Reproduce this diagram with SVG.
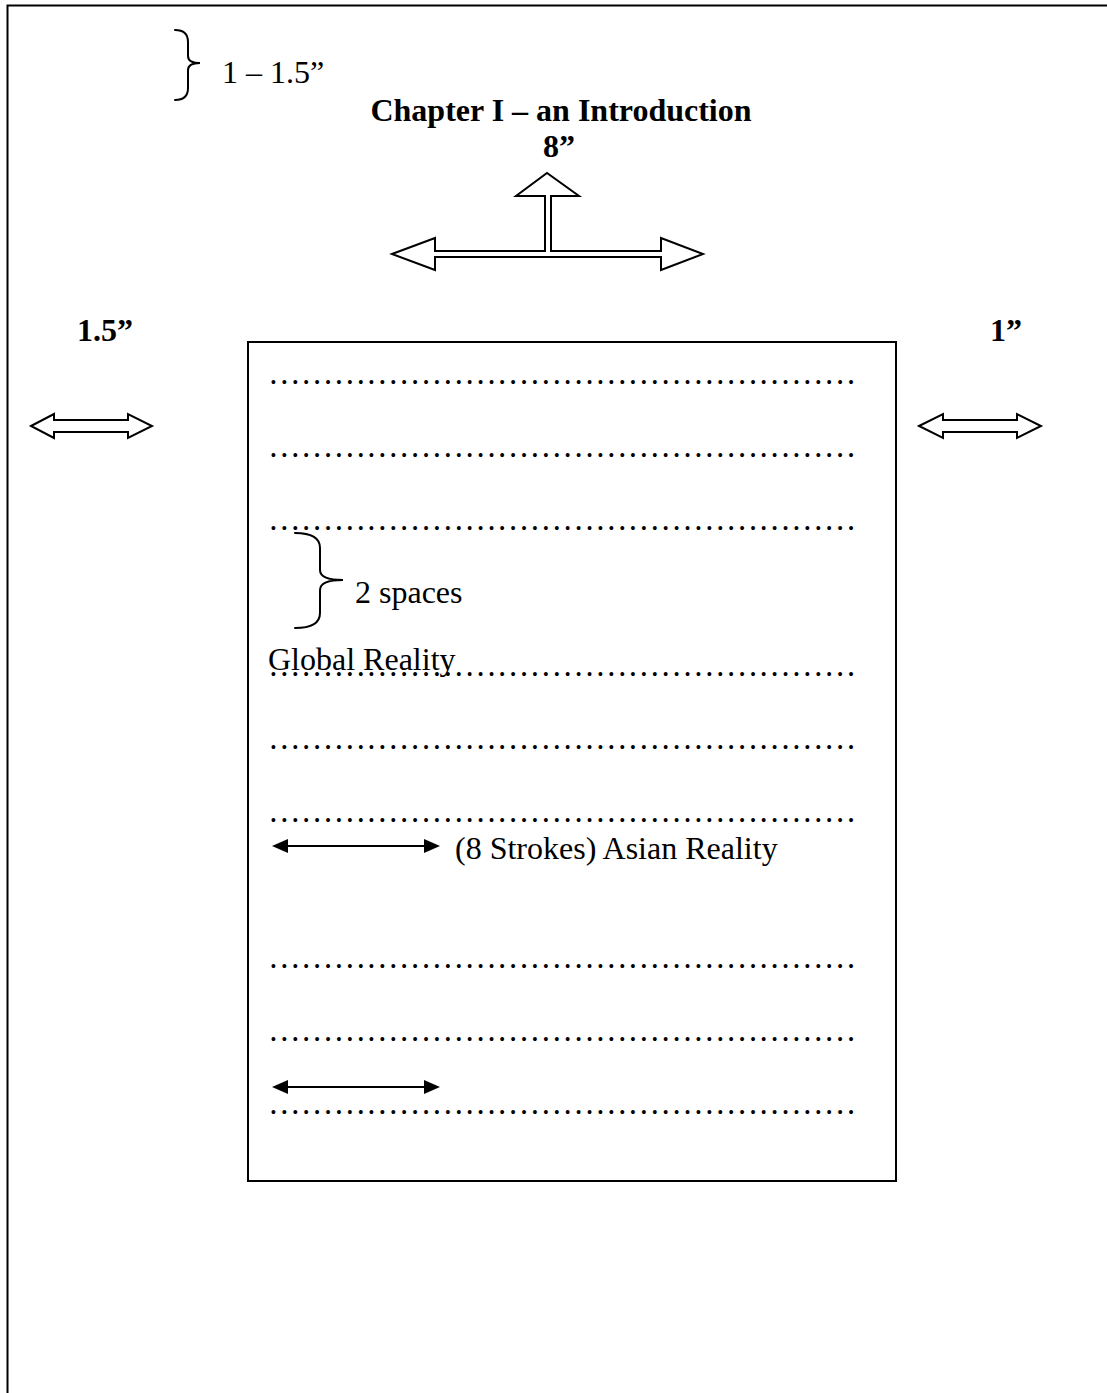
<svg xmlns="http://www.w3.org/2000/svg" width="1107" height="1393" viewBox="0 0 1107 1393">
  <style>
    .t { font-family: "Liberation Serif", "Times New Roman", serif; font-size: 32px; fill: #000; }
    .b { font-weight: bold; }
    .dots { font-family: "Liberation Serif", "Times New Roman", serif; font-size: 32.7px; fill: #000; }
    .frame { fill: none; stroke: #000; stroke-width: 2; }
    .brace { fill: none; stroke: #000; stroke-width: 2; stroke-linecap: round; }
    .hollow { fill: #fff; stroke: #000; stroke-width: 2; stroke-linejoin: miter; }
    .thin { stroke: #000; stroke-width: 2.2; fill: none; }
    .head { fill: #000; }
  </style>

  <rect width="1107" height="1393" fill="#fff"/>

  <!-- page edges (left and top) -->
  <g id="page-frame">
    <path class="frame" d="M7.5,1393 V5.5 H1107"/>
  </g>

  <!-- top margin note -->
  <g id="top-margin">
    <path class="brace" d="M175,30 Q188,30 188,42 L188,56 Q188,63 200,63 Q188,63 188,70 L188,88 Q188,100 175,100"/>
    <text class="t" x="222" y="83">1 – 1.5”</text>
  </g>

  <!-- heading -->
  <g id="title">
    <text class="t b" x="561" y="121" text-anchor="middle">Chapter I – an Introduction</text>
    <text class="t b" x="543" y="157">8”</text>
  </g>

  <!-- width marker: hollow T-shaped arrow -->
  <g id="width-arrow">
    <path class="hollow" d="M392,254 L435,238 L435,251 L545,251 L545,196 L516,196 L547,173 L579,196 L551,196 L551,251 L661,251 L661,238 L703,254 L661,270 L661,257 L435,257 L435,270 Z"/>
  </g>

  <!-- side margins -->
  <g id="left-margin">
    <text class="t b" x="77" y="341">1.5”</text>
    <path class="hollow" d="M31,426 L54,414 L54,420 L128,420 L128,414 L152,426 L128,438 L128,432 L54,432 L54,438 Z"/>
  </g>
  <g id="right-margin">
    <text class="t b" x="990" y="341">1”</text>
    <path class="hollow" d="M919,426 L943,414 L943,420 L1017,420 L1017,414 L1041,426 L1017,438 L1017,432 L943,432 L943,438 Z"/>
  </g>

  <!-- text block: 18 ellipsis characters per row -->
  <g id="text-block">
    <rect class="frame" x="248" y="342" width="648" height="839"/>
    <text class="dots" x="268" y="384">&#8230;&#8230;&#8230;&#8230;&#8230;&#8230;&#8230;&#8230;&#8230;&#8230;&#8230;&#8230;&#8230;&#8230;&#8230;&#8230;&#8230;&#8230;</text>
    <text class="dots" x="268" y="457">&#8230;&#8230;&#8230;&#8230;&#8230;&#8230;&#8230;&#8230;&#8230;&#8230;&#8230;&#8230;&#8230;&#8230;&#8230;&#8230;&#8230;&#8230;</text>
    <text class="dots" x="268" y="530">&#8230;&#8230;&#8230;&#8230;&#8230;&#8230;&#8230;&#8230;&#8230;&#8230;&#8230;&#8230;&#8230;&#8230;&#8230;&#8230;&#8230;&#8230;</text>
    <text class="dots" x="268" y="676">&#8230;&#8230;&#8230;&#8230;&#8230;&#8230;&#8230;&#8230;&#8230;&#8230;&#8230;&#8230;&#8230;&#8230;&#8230;&#8230;&#8230;&#8230;</text>
    <text class="dots" x="268" y="749">&#8230;&#8230;&#8230;&#8230;&#8230;&#8230;&#8230;&#8230;&#8230;&#8230;&#8230;&#8230;&#8230;&#8230;&#8230;&#8230;&#8230;&#8230;</text>
    <text class="dots" x="268" y="822">&#8230;&#8230;&#8230;&#8230;&#8230;&#8230;&#8230;&#8230;&#8230;&#8230;&#8230;&#8230;&#8230;&#8230;&#8230;&#8230;&#8230;&#8230;</text>
    <text class="dots" x="268" y="968">&#8230;&#8230;&#8230;&#8230;&#8230;&#8230;&#8230;&#8230;&#8230;&#8230;&#8230;&#8230;&#8230;&#8230;&#8230;&#8230;&#8230;&#8230;</text>
    <text class="dots" x="268" y="1041">&#8230;&#8230;&#8230;&#8230;&#8230;&#8230;&#8230;&#8230;&#8230;&#8230;&#8230;&#8230;&#8230;&#8230;&#8230;&#8230;&#8230;&#8230;</text>
    <text class="dots" x="268" y="1114">&#8230;&#8230;&#8230;&#8230;&#8230;&#8230;&#8230;&#8230;&#8230;&#8230;&#8230;&#8230;&#8230;&#8230;&#8230;&#8230;&#8230;&#8230;</text>
  </g>

  <g id="spacing-note">
    <path class="brace" d="M295,533 Q320,533 320,548 L320,570 Q320,580 343,580 Q320,580 320,590 L320,613 Q320,628 295,628"/>
    <text class="t" x="355" y="603">2 spaces</text>
  </g>

  <g id="heading-global">
    <text class="t" x="268" y="670">Global Reality</text>
  </g>

  <g id="heading-asian">
    <text class="t" x="455" y="859">(8 Strokes) Asian Reality</text>
  </g>

  <!-- indent connectors with solid heads -->
  <g id="connectors">
    <line class="thin" x1="284" y1="846" x2="428" y2="846"/>
    <path class="head" d="M272,846 L288,839 L288,853 Z"/>
    <path class="head" d="M440,846 L424,839 L424,853 Z"/>
    <line class="thin" x1="284" y1="1087" x2="428" y2="1087"/>
    <path class="head" d="M272,1087 L288,1080 L288,1094 Z"/>
    <path class="head" d="M440,1087 L424,1080 L424,1094 Z"/>
  </g>
</svg>
